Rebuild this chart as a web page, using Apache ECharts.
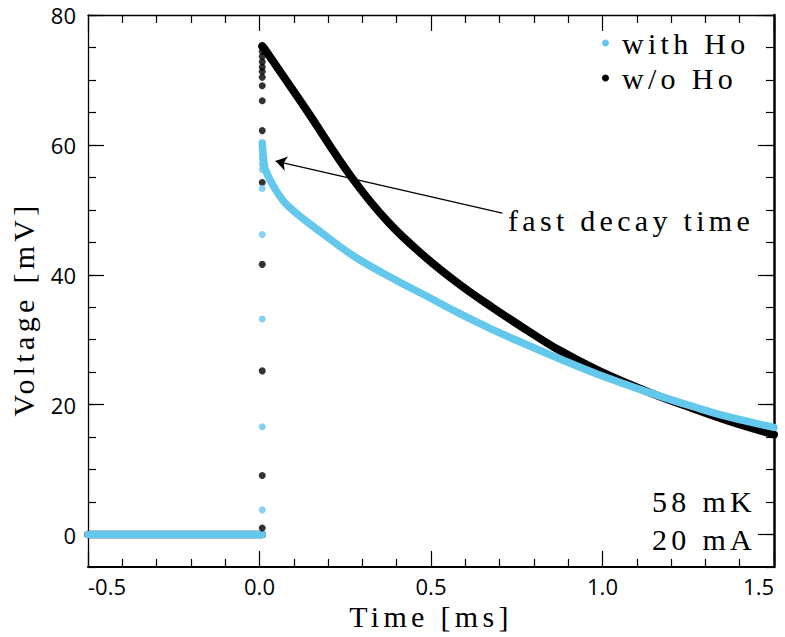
<!DOCTYPE html>
<html>
<head>
<meta charset="utf-8">
<script src="https://cdn.jsdelivr.net/npm/echarts@6/dist/echarts.min.js"></script>
<style>
  html, body { margin: 0; padding: 0; background: #fff; }
  #chart { width: 785px; height: 637px; }
</style>
</head>
<body>
<div id="chart"></div>
<script>
// ---- data ----
const seriesNames = ['with Ho', 'w/o Ho'];

// flat pre-trigger baseline (time in ms, voltage in mV)
const baseTime = [-0.5, 0.008];
const baseWithHo = [0, 0];
const baseWithoutHo = [0, 0];

// discrete points on the steep rise at t ~ 0
const riseTime = 0.008;
const riseWithHo = [3.8, 16.6, 33.2, 46.2, 53.3, 56.2, 57.0, 57.8, 58.5, 59.2, 59.8, 60.3];
const riseWithoutHo = [1.0, 9.1, 25.2, 41.6, 54.2, 62.2, 66.8, 69.1, 70.4, 71.3, 72.0, 72.8, 73.6, 74.4, 75.1];

// decay part
const decayTimeWithHo = [0.008, 0.012, 0.017, 0.047, 0.085, 0.183, 0.28, 0.397, 0.484, 0.581, 0.678, 0.776, 0.873, 0.98, 1.145, 1.27, 1.368, 1.5];
const decayWithHo     = [60.3, 58.0, 56.2, 53.1, 50.5, 46.4, 42.7, 39.2, 36.8, 34.1, 31.6, 29.3, 27.1, 24.8, 21.7, 19.6, 18.1, 16.5];
const decayTimeWithoutHo = [0.008, 0.013, 0.056, 0.134, 0.27, 0.377, 0.484, 0.581, 0.678, 0.776, 0.873, 0.99, 1.145, 1.27, 1.368, 1.5];
const decayWithoutHo     = [75.2, 74.9, 71.6, 65.6, 54.9, 48.0, 42.7, 38.6, 35.0, 31.6, 28.4, 25.2, 21.7, 19.3, 17.5, 15.4];

// axis ticks
const xTicks = [-0.5, 0.0, 0.5, 1.0, 1.5];
const yLabelValues = [0, 20, 40, 60, 80];

// annotation arrow: from text to the fast decay shoulder
const arrowFrom = [0.708, 49.5];
const arrowTo = [0.047, 57.5];
const annotationText = 'fast decay time';
const conditionTexts = ['58 mK', '20 mA'];

// ---- styling ----
const CYAN = '#64C8EC';
const BLACK = '#000000';
const SERIF = '"Liberation Serif", "Times New Roman", serif';
const SANS = '"Open Sans", "Noto Sans", sans-serif';
const SPACING = '4.3px';

const zip = (xs, ys) => xs.map((x, i) => [x, ys[i]]);

const chart = echarts.init(document.getElementById('chart'), null, { renderer: 'svg' });

const commonY = { type: 'value', min: -5, max: 80, splitLine: { show: false } };
const commonX = { type: 'value', min: xTicks[0], max: xTicks[xTicks.length - 1], interval: 0.5, splitLine: { show: false } };

const option = {
  animation: false,
  backgroundColor: '#fff',
  grid: { left: 88, right: 11, top: 15, bottom: 70, containLabel: false, outerBoundsMode: 'none' },
  legend: {
    orient: 'vertical',
    left: 597,
    top: 23,
    itemWidth: 7,
    itemHeight: 7,
    itemGap: 5,
    icon: 'circle',
    selectedMode: false,
    data: [
      { name: seriesNames[0], itemStyle: { color: CYAN } },
      { name: seriesNames[1], itemStyle: { color: BLACK } }
    ],
    textStyle: { fontFamily: SERIF, fontSize: 30, color: '#000', padding: [0, 0, 0, 8] }
  },
  xAxis: [
    Object.assign({}, commonX, {
      position: 'bottom',
      name: 'Time [ms]',
      nameLocation: 'middle',
      nameGap: 32,
      nameTextStyle: { fontFamily: SERIF, fontSize: 30, color: '#000' },
      axisLine: { onZero: false, lineStyle: { color: '#000', width: 2 } },
      axisTick: { inside: true, length: 16, lineStyle: { color: '#000', width: 1.2 } },
      minorTick: { show: true, splitNumber: 5, length: 8, lineStyle: { color: '#000', width: 1.2 } },
      axisLabel: {
        fontFamily: SANS, fontSize: 22, color: '#000', margin: 8,
        alignMinLabel: 'left', alignMaxLabel: 'right',
        formatter: v => v.toFixed(1)
      }
    }),
    Object.assign({}, commonX, {
      position: 'top',
      axisLine: { onZero: false, lineStyle: { color: '#000', width: 1.3 } },
      axisTick: { inside: true, length: 16, lineStyle: { color: '#000', width: 1.2 } },
      minorTick: { show: true, splitNumber: 5, length: 8, lineStyle: { color: '#000', width: 1.2 } },
      axisLabel: { show: false }
    })
  ],
  yAxis: [
    Object.assign({}, commonY, {
      position: 'left',
      axisLine: { show: true, onZero: false, lineStyle: { color: '#000', width: 1.3 } },
      axisTick: { show: true, inside: true, length: 16, customValues: yLabelValues, lineStyle: { color: '#000', width: 1.2 } },
      axisLabel: { fontFamily: SANS, fontSize: 22, color: '#000', margin: 12, customValues: yLabelValues }
    }),
    Object.assign({}, commonY, {
      position: 'left',
      interval: 5,
      axisLine: { show: false, onZero: false },
      axisTick: { show: true, inside: true, length: 8, lineStyle: { color: '#000', width: 1.2 } },
      axisLabel: { show: false }
    }),
    Object.assign({}, commonY, {
      position: 'right',
      axisLine: { show: true, onZero: false, lineStyle: { color: '#000', width: 2.5 } },
      axisTick: { show: true, inside: true, length: 16, customValues: yLabelValues, lineStyle: { color: '#000', width: 1.2 } },
      axisLabel: { show: false }
    }),
    Object.assign({}, commonY, {
      position: 'right',
      interval: 5,
      axisLine: { show: false, onZero: false },
      axisTick: { show: true, inside: true, length: 8, lineStyle: { color: '#000', width: 1.2 } },
      axisLabel: { show: false }
    })
  ],
  graphic: [
    {
      type: 'text', x: 23, y: 309, rotation: Math.PI / 2, silent: true,
      style: { text: 'Voltage [mV]', fontFamily: SERIF, fontSize: 30, fill: '#000', textAlign: 'center', textVerticalAlign: 'middle' }
    },
    {
      type: 'text', x: 508, y: 220, silent: true,
      style: { text: annotationText, fontFamily: SERIF, fontSize: 30, fill: '#000', textAlign: 'left', textVerticalAlign: 'middle' }
    },
    {
      type: 'text', x: 756, y: 501, silent: true,
      style: { text: conditionTexts[0], fontFamily: SERIF, fontSize: 30, fill: '#000', textAlign: 'right', textVerticalAlign: 'middle' }
    },
    {
      type: 'text', x: 756, y: 539, silent: true,
      style: { text: conditionTexts[1], fontFamily: SERIF, fontSize: 30, fill: '#000', textAlign: 'right', textVerticalAlign: 'middle' }
    }
  ],
  series: [
    {
      name: seriesNames[1], type: 'line', data: zip(baseTime, baseWithoutHo),
      showSymbol: false, silent: true, lineStyle: { color: BLACK, width: 7.5, cap: 'round' }, itemStyle: { color: BLACK }
    },
    {
      name: seriesNames[1], type: 'line', data: zip(decayTimeWithoutHo, decayWithoutHo),
      showSymbol: false, silent: true, smooth: 0.4,
      lineStyle: { color: BLACK, width: 8, cap: 'round', join: 'round' }, itemStyle: { color: BLACK }
    },
    {
      name: seriesNames[0], type: 'line', data: zip(baseTime, baseWithHo),
      showSymbol: false, silent: true, lineStyle: { color: CYAN, width: 7.5, cap: 'round' }, itemStyle: { color: CYAN }
    },
    {
      name: seriesNames[0], type: 'line', data: zip(decayTimeWithHo, decayWithHo),
      showSymbol: false, silent: true, smooth: 0.4,
      lineStyle: { color: CYAN, width: 7.5, cap: 'round', join: 'round' }, itemStyle: { color: CYAN },
      markLine: {
        silent: true,
        symbol: ['none', 'arrow'],
        symbolSize: 11,
        label: { show: false },
        lineStyle: { color: '#000', width: 1.2, type: 'solid' },
        data: [[{ coord: arrowFrom }, { coord: arrowTo }]]
      }
    },
    {
      name: seriesNames[1], type: 'scatter', data: riseWithoutHo.map(v => [riseTime, v]),
      symbol: 'circle', symbolSize: 7, silent: true, itemStyle: { color: BLACK }, z: 3
    },
    {
      name: seriesNames[0], type: 'scatter', data: riseWithHo.map(v => [riseTime, v]),
      symbol: 'circle', symbolSize: 7, silent: true, itemStyle: { color: CYAN }, z: 3
    }
  ]
};

chart.setOption(option);

const spacedTexts = new Set(['Time [ms]', 'Voltage [mV]', annotationText, seriesNames[0], seriesNames[1]].concat(conditionTexts));
function applySpacing() {
  chart.getDom().querySelectorAll('text').forEach(t => {
    if (spacedTexts.has(t.textContent.trim())) {
      t.setAttribute('letter-spacing', SPACING);
      t.style.letterSpacing = SPACING;
    }
  });
}
applySpacing();
chart.on('finished', applySpacing);
</script>
</body>
</html>
